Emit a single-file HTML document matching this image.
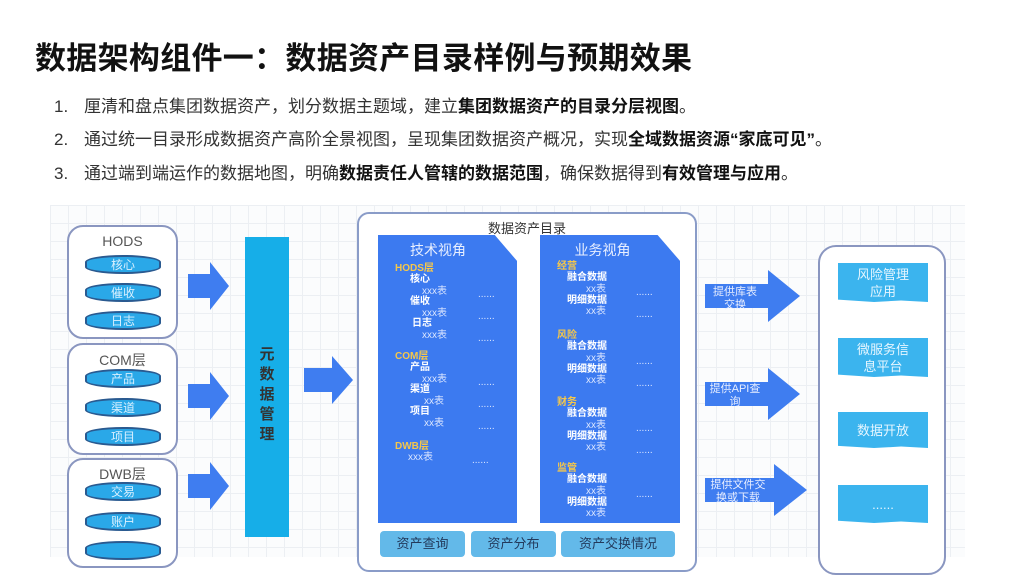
<!DOCTYPE html>
<html><head><meta charset="utf-8"><style>
*{margin:0;padding:0;box-sizing:border-box}
body{width:1031px;height:557px;overflow:hidden;background:#fff;font-family:"Liberation Sans","Noto Sans CJK SC",sans-serif;position:relative}
.a{position:absolute}
h1{position:absolute;left:35px;top:33px;font-size:31px;font-weight:bold;color:#111;white-space:nowrap;letter-spacing:0.3px}
.li{position:absolute;left:54px;font-size:17px;color:#333;white-space:nowrap}
.li span.n{display:inline-block;width:30px}
.li b{color:#111}
.grid{left:50px;top:205px;width:915px;height:352px;background-color:#fbfcfd;background-image:linear-gradient(#eceff3 1px,transparent 1px),linear-gradient(90deg,#eceff3 1px,transparent 1px);background-size:18px 18px}
.grp{border:2px solid #8a96c0;border-radius:16px;background:#fff}
.gt{font-size:14px;color:#555;text-align:center;width:100%}
.cyl{position:absolute;left:85px;width:76px;height:19px;background:#2aa8e8;border:2px solid #2a5a90;border-radius:38px/7px;color:#d8f0ff;font-size:12px;text-align:center;line-height:17px}
.bar{left:245px;top:237px;width:44px;height:300px;background:#16aee8}
.bar div{position:absolute;left:0;width:44px;top:108px;text-align:center;font-size:15px;font-weight:bold;color:#333;line-height:20px}
.panel{background:#3c7af0;clip-path:polygon(0 0,84% 0,100% 9%,100% 100%,0 100%)}
.pt{font-size:14px;color:#e8efff;text-align:center}
.t{position:absolute;font-size:10px;white-space:nowrap;line-height:12px}
.y{color:#f5c74a;font-weight:bold}.w{color:#fff;font-weight:bold}.s{color:#dbe6ff}
.btn{background:#63b9e9;border-radius:4px;top:531px;height:26px;color:#233a5c;font-size:13px;text-align:center;line-height:26px}
.ob{left:838px;width:90px;background:#3bb4ee;color:#e6f6ff;font-size:13px;text-align:center;line-height:17px;display:flex;align-items:center;justify-content:center;clip-path:polygon(0 0,100% 0,100% 100%,70% 96%,40% 100%,0 94%)}
.at{position:absolute;font-size:11px;color:#e8eeff;text-align:center;line-height:13px;white-space:nowrap}
</style></head><body>
<h1>数据架构组件一：数据资产目录样例与预期效果</h1>
<div class="li" style="top:92px"><span class="n">1.</span>厘清和盘点集团数据资产，划分数据主题域，建立<b>集团数据资产的目录分层视图</b>。</div>
<div class="li" style="top:125px"><span class="n">2.</span>通过统一目录形成数据资产高阶全景视图，呈现集团数据资产概况，实现<b>全域数据资源“家底可见”</b>。</div>
<div class="li" style="top:159px"><span class="n">3.</span>通过端到端运作的数据地图，明确<b>数据责任人管辖的数据范围</b>，确保数据得到<b>有效管理与应用</b>。</div>

<div class="a grid"></div>

<div class="a grp" style="left:67px;top:225px;width:111px;height:114px"><div class="gt" style="margin-top:6px">HODS</div></div>
<div class="a grp" style="left:67px;top:343px;width:111px;height:112px"><div class="gt" style="margin-top:5px">COM层</div></div>
<div class="a grp" style="left:67px;top:458px;width:111px;height:110px"><div class="gt" style="margin-top:4px">DWB层</div></div>
<div class="cyl" style="top:255px">核心</div>
<div class="cyl" style="top:283px">催收</div>
<div class="cyl" style="top:311px">日志</div>
<div class="cyl" style="top:369px">产品</div>
<div class="cyl" style="top:398px">渠道</div>
<div class="cyl" style="top:427px">项目</div>
<div class="cyl" style="top:482px">交易</div>
<div class="cyl" style="top:512px">账户</div>
<div class="cyl" style="top:541px"></div>

<svg class="a" style="left:0;top:0" width="1031" height="557">
<g fill="#3f7df0">
<polygon points="188,274 210,274 210,262 229,286 210,310 210,298 188,298"/>
<polygon points="188,384 210,384 210,372 229,396 210,420 210,408 188,408"/>
<polygon points="188,474 210,474 210,462 229,486 210,510 210,498 188,498"/>
<polygon points="304,368 332,368 332,356 353,380 332,404 332,392 304,392"/>
<polygon points="705,284 768,284 768,270 800,296 768,322 768,308 705,308"/>
<polygon points="705,382 768,382 768,368 800,394 768,420 768,406 705,406"/>
<polygon points="705,478 774,478 774,464 807,490 774,516 774,502 705,502"/>
</g>
</svg>
<div class="at" style="left:705px;top:286px;width:60px">提供库表<br>交换</div>
<div class="at" style="left:705px;top:383px;width:60px">提供API查<br>询</div>
<div class="at" style="left:705px;top:479px;width:66px">提供文件交<br>换或下载</div>

<div class="a bar"><div>元<br>数<br>据<br>管<br>理</div></div>

<div class="a grp" style="left:357px;top:212px;width:340px;height:360px;border-color:#8a9cc8;border-radius:12px"><div class="gt" style="margin-top:4px;font-size:13px;color:#333">数据资产目录</div></div>
<div class="a panel" style="left:378px;top:235px;width:139px;height:288px"></div>
<div class="a panel" style="left:540px;top:235px;width:140px;height:288px"></div>
<div class="a pt" style="left:378px;top:240px;width:120px">技术视角</div>
<div class="a pt" style="left:540px;top:240px;width:125px">业务视角</div>

<div class="t y" style="left:395px;top:263px">HODS层</div>
<div class="t w" style="left:410px;top:274px">核心</div>
<div class="t s" style="left:422px;top:286px">xxx表</div><div class="t s" style="left:478px;top:289px">......</div>
<div class="t w" style="left:410px;top:296px">催收</div>
<div class="t s" style="left:422px;top:308px">xxx表</div><div class="t s" style="left:478px;top:311px">......</div>
<div class="t w" style="left:412px;top:318px">日志</div>
<div class="t s" style="left:422px;top:330px">xxx表</div><div class="t s" style="left:478px;top:333px">......</div>
<div class="t y" style="left:395px;top:351px">COM层</div>
<div class="t w" style="left:410px;top:362px">产品</div>
<div class="t s" style="left:422px;top:374px">xxx表</div><div class="t s" style="left:478px;top:377px">......</div>
<div class="t w" style="left:410px;top:384px">渠道</div>
<div class="t s" style="left:424px;top:396px">xx表</div><div class="t s" style="left:478px;top:399px">......</div>
<div class="t w" style="left:410px;top:406px">项目</div>
<div class="t s" style="left:424px;top:418px">xx表</div><div class="t s" style="left:478px;top:421px">......</div>
<div class="t y" style="left:395px;top:441px">DWB层</div>
<div class="t s" style="left:408px;top:452px">xxx表</div><div class="t s" style="left:472px;top:455px">......</div>

<div class="t y" style="left:557px;top:261px">经营</div>
<div class="t w" style="left:567px;top:272px">融合数据</div>
<div class="t s" style="left:586px;top:284px">xx表</div><div class="t s" style="left:636px;top:287px">......</div>
<div class="t w" style="left:567px;top:295px">明细数据</div>
<div class="t s" style="left:586px;top:306px">xx表</div><div class="t s" style="left:636px;top:309px">......</div>
<div class="t y" style="left:557px;top:330px">风险</div>
<div class="t w" style="left:567px;top:341px">融合数据</div>
<div class="t s" style="left:586px;top:353px">xx表</div><div class="t s" style="left:636px;top:356px">......</div>
<div class="t w" style="left:567px;top:364px">明细数据</div>
<div class="t s" style="left:586px;top:375px">xx表</div><div class="t s" style="left:636px;top:378px">......</div>
<div class="t y" style="left:557px;top:397px">财务</div>
<div class="t w" style="left:567px;top:408px">融合数据</div>
<div class="t s" style="left:586px;top:420px">xx表</div><div class="t s" style="left:636px;top:423px">......</div>
<div class="t w" style="left:567px;top:431px">明细数据</div>
<div class="t s" style="left:586px;top:442px">xx表</div><div class="t s" style="left:636px;top:445px">......</div>
<div class="t y" style="left:557px;top:463px">监管</div>
<div class="t w" style="left:567px;top:474px">融合数据</div>
<div class="t s" style="left:586px;top:486px">xx表</div><div class="t s" style="left:636px;top:489px">......</div>
<div class="t w" style="left:567px;top:497px">明细数据</div>
<div class="t s" style="left:586px;top:508px">xx表</div>

<div class="a btn" style="left:380px;width:85px">资产查询</div>
<div class="a btn" style="left:471px;width:85px">资产分布</div>
<div class="a btn" style="left:561px;width:114px">资产交换情况</div>

<div class="a grp" style="left:818px;top:245px;width:128px;height:330px;border-color:#8a96c0;border-radius:18px"></div>
<div class="a ob" style="left:838px;top:263px;height:39px">风险管理<br>应用</div>
<div class="a ob" style="left:838px;top:338px;height:39px">微服务信<br>息平台</div>
<div class="a ob" style="left:838px;top:412px;height:36px">数据开放</div>
<div class="a ob" style="left:838px;top:485px;height:38px">......</div>
</body></html>
